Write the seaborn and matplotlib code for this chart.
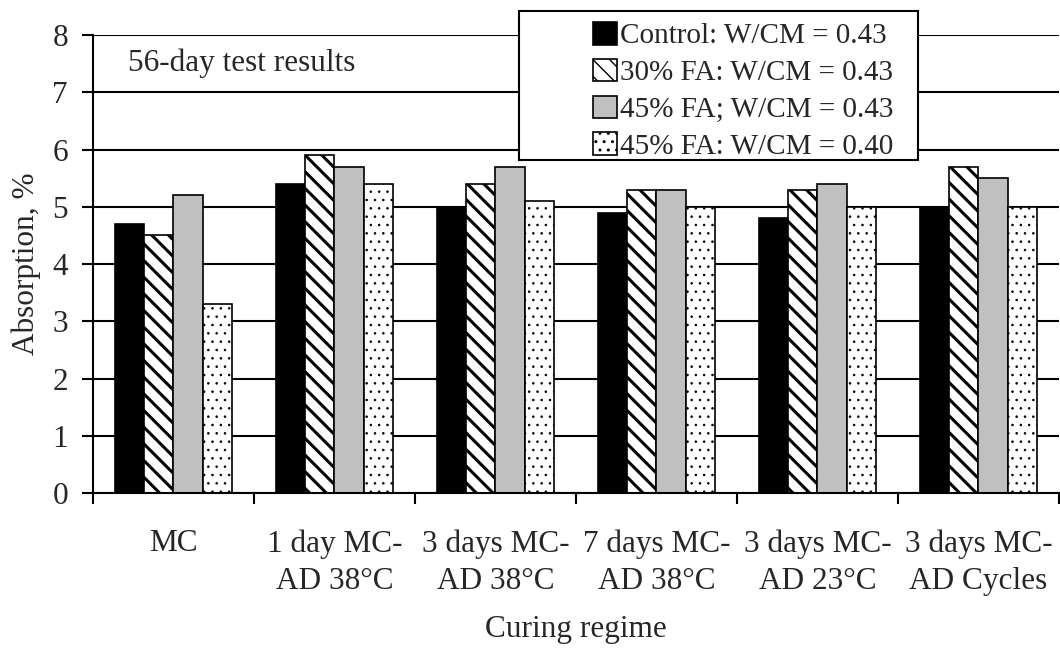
import pandas as pd
import matplotlib.pyplot as plt
import seaborn as sns
from matplotlib.patches import Rectangle

# =========================
# 数据
# =========================
regimes = ["MC", "1 day MC-\nAD 38°C", "3 days MC-\nAD 38°C", "7 days MC-\nAD 38°C",
           "3 days MC-\nAD 23°C", "3 days MC-\nAD Cycles"]
mixes = ["Control: W/CM = 0.43", "30% FA: W/CM = 0.43",
         "45% FA; W/CM = 0.43", "45% FA: W/CM = 0.40"]

control_043 = [4.7, 5.4, 5.0, 4.9, 4.8, 5.0]
fa30_043 = [4.5, 5.9, 5.4, 5.3, 5.3, 5.7]
fa45_043 = [5.2, 5.7, 5.7, 5.3, 5.4, 5.5]
fa45_040 = [3.3, 5.4, 5.1, 5.0, 5.0, 5.0]

series = [control_043, fa30_043, fa45_043, fa45_040]
rows = []
for mix, vals in zip(mixes, series):
    for reg, v in zip(regimes, vals):
        rows.append({"regime": reg, "mix": mix, "absorption": v})
df = pd.DataFrame(rows)

# 样式
fills = ["black", "white", "#c0c0c0", "white"]
hatches = [None, "\\\\", None, ".."]
hatch_lw = [1.0, 2.2, 1.0, 0.6]
FS = 22.5

sns.set_style("white")
plt.rcParams["font.family"] = ["Liberation Serif", "DejaVu Serif"]
plt.rcParams["hatch.color"] = "black"

fig, ax = plt.subplots(figsize=(10.6, 6.48), dpi=100)
fig.subplots_adjust(left=0.0877, right=0.999, bottom=0.239, top=0.946)

sns.barplot(data=df, x="regime", y="absorption", hue="mix", hue_order=mixes,
            order=regimes, palette=fills, width=0.73, gap=0, saturation=1,
            edgecolor="black", linewidth=1.2, legend=False, ax=ax)

for cont, h, lw in zip(ax.containers, hatches, hatch_lw):
    for bar in cont:
        if h:
            bar.set_hatch(h)
        if hasattr(bar, "set_hatch_linewidth"):
            bar.set_hatch_linewidth(lw)

# 坐标轴
ax.set_ylim(0, 8)
ax.set_xlim(-0.5, len(regimes) - 0.5)
ax.set_yticks(range(0, 9))
ax.yaxis.grid(True, color="black", linewidth=1.5)
ax.set_axisbelow(True)
for s in ["top", "right"]:
    ax.spines[s].set_visible(False)
for s in ["left", "bottom"]:
    ax.spines[s].set_color("black")
    ax.spines[s].set_linewidth(1.5)

ax.set_xticks([i - 0.5 for i in range(len(regimes) + 1)], minor=True)
ax.tick_params(axis="x", which="major", length=0, pad=26, labelsize=FS)
ax.tick_params(axis="x", which="minor", direction="out", length=8, width=1.5,
               color="black", bottom=True)
ax.tick_params(axis="y", direction="out", length=8, width=1.5, color="black",
               labelsize=FS, left=True, pad=10)
for lab in ax.get_xticklabels():
    lab.set_linespacing(1.37)

ax.set_xlabel("Curing regime", fontsize=FS, labelpad=14)
ax.set_ylabel("Absorption, %", fontsize=FS, labelpad=8)

ax.text(0.036, 0.939, "56-day test results", transform=ax.transAxes,
        ha="left", va="center", fontsize=FS)

# 图例
leg = fig.legend(handles=ax.containers, labels=mixes, loc="upper left",
                 bbox_to_anchor=(593 / 1060, 1 - 22 / 648), frameon=False, fontsize=21,
                 handlelength=0.82, handleheight=0.82, handletextpad=0.1,
                 labelspacing=0.32, borderaxespad=0, borderpad=0)
fig.patches.append(Rectangle((519 / 1060, 1 - 160 / 648), (918 - 519) / 1060,
                             (160 - 11) / 648, transform=fig.transFigure,
                             facecolor="white", edgecolor="black",
                             linewidth=1.5, zorder=1))

fig.savefig("out.png", dpi=100)
